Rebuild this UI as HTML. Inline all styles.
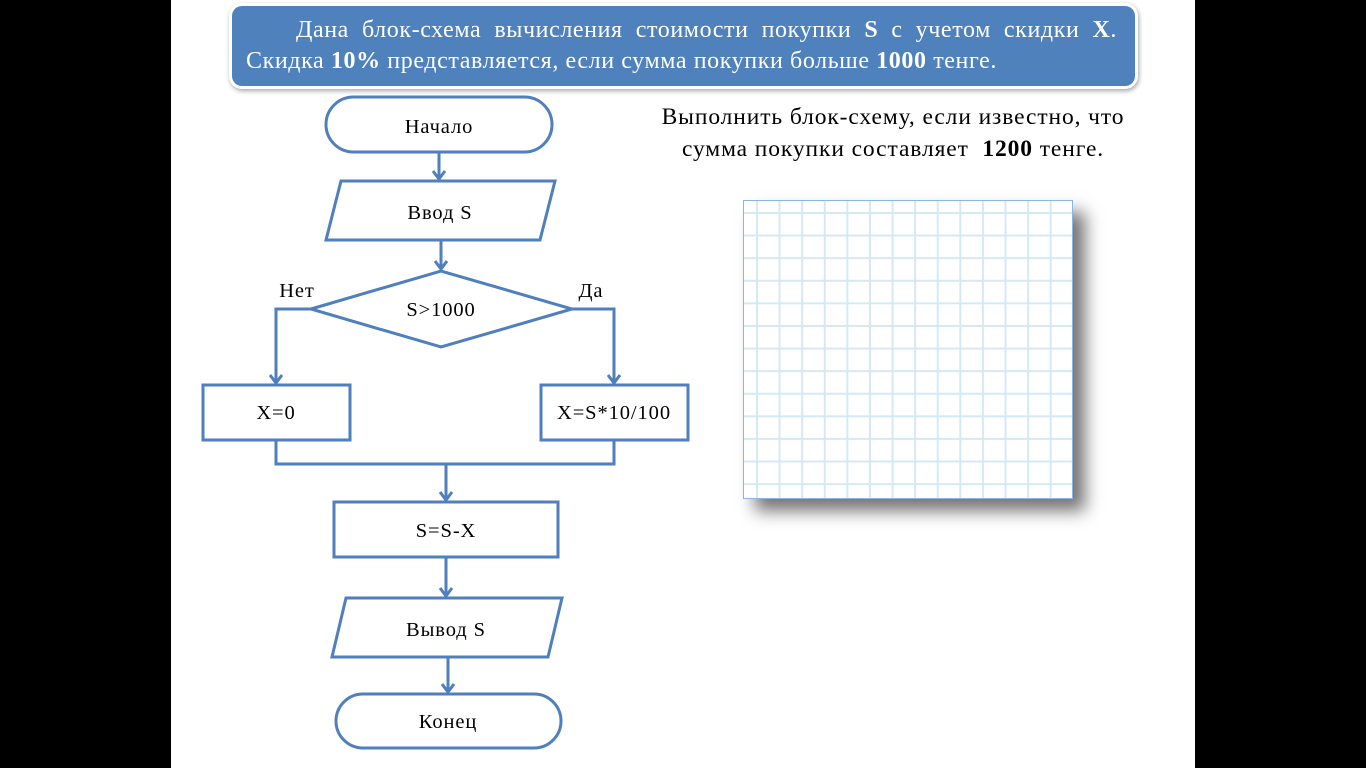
<!DOCTYPE html>
<html><head><meta charset="utf-8"><style>
html,body{margin:0;padding:0;width:1366px;height:768px;background:#000;overflow:hidden}
#slide{position:absolute;left:171px;top:0;width:1024px;height:768px;background:#fff}
#banner{position:absolute;left:232px;top:6px;width:903px;height:80px;background:#4f81bd;border-radius:10px;box-shadow:0 0 0 3px #fff,1px 2px 5px 3px rgba(0,0,0,0.35);color:#fff;font-family:"Liberation Serif",serif;font-size:24px;letter-spacing:0.6px;line-height:31px;box-sizing:border-box;padding:9px 18px 0 14px}
#banner .l1{text-align:justify;text-align-last:justify;text-indent:50px;white-space:nowrap}
#banner .l2{white-space:nowrap}
#txt{position:absolute;left:620px;top:101px;width:546px;text-align:center;font-family:"Liberation Serif",serif;font-size:23.5px;letter-spacing:0.9px;line-height:32px;color:#000}
#grid{position:absolute;left:743px;top:200px;width:328px;height:297px;border:1px solid #8eb4e3;box-shadow:12px 12px 16px rgba(0,0,0,0.55);
background-color:#fff;
background-image:linear-gradient(to right,#d4e9f5 2px,transparent 2px),linear-gradient(to bottom,#d4e9f5 2px,transparent 2px);
background-size:22.6px 22.6px;background-position:12px 11px}
svg{position:absolute;left:0;top:0}
</style></head><body>
<div id="slide"></div>
<div id="banner"><div class="l1">Дана блок-схема вычисления стоимости покупки <b>S</b> с учетом скидки <b>X</b>.</div><div class="l2">Скидка <b>10%</b> представляется, если сумма покупки больше <b>1000</b> тенге.</div></div>
<div id="txt">Выполнить блок-схему, если известно, что<br>сумма покупки составляет&nbsp; <b>1200</b> тенге.</div>
<div id="grid"></div>
<svg width="1366" height="768" viewBox="0 0 1366 768">
<g fill="none" stroke="#4f7fbd" stroke-width="3">
<rect x="326" y="97" width="226" height="55" rx="27.5"/>
<polygon points="341,181 555,181 540,240 326,240"/>
<polygon points="311,309 441,271 572,309 441,347"/>
<rect x="203" y="385" width="147" height="55"/>
<rect x="541" y="385" width="147" height="55"/>
<rect x="334" y="502" width="224" height="55"/>
<polygon points="346,598 562,598 548,657 332,657"/>
<rect x="336" y="694" width="225" height="54" rx="27"/>
<path d="M439 152V179M441 240V269M311 309H276V383M572 309H614V383M276 440V464H614V440M446 464V500M446 557V596M448 657V692"/>
<path d="M433 171L439 179L445 171M435 261L441 269L447 261M270 375L276 383L282 375M608 375L614 383L620 375M440 492L446 500L452 492M440 588L446 596L452 588M442 684L448 692L454 684"/>
</g>
<g font-family="Liberation Serif, serif" font-size="20.5" letter-spacing="0.9" fill="#000" text-anchor="middle">
<text x="439" y="133">Начало</text>
<text x="440" y="219">Ввод S</text>
<text x="441" y="316">S&gt;1000</text>
<text x="297" y="297">Нет</text>
<text x="591" y="297">Да</text>
<text x="276" y="419">X=0</text>
<text x="614" y="419">X=S*10/100</text>
<text x="446" y="537">S=S-X</text>
<text x="446" y="636">Вывод S</text>
<text x="448" y="728">Конец</text>
</g>
</svg>
</body></html>
